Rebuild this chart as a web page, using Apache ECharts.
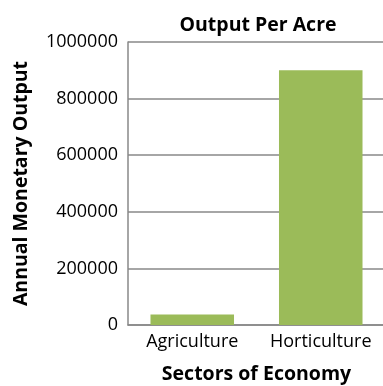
<!DOCTYPE html>
<html>
<head>
<meta charset="utf-8">
<script src="https://cdn.jsdelivr.net/npm/echarts@6/dist/echarts.min.js"></script>
<style>
  html, body { margin: 0; padding: 0; background: #fff; }
  #chart { width: 383px; height: 386px; }
</style>
</head>
<body>
<div id="chart"></div>
<script>
// 图表数据
const categories = ['Agriculture', 'Horticulture']
const outputValues = [37000, 900000]

const FONT = '"Open Sans", sans-serif'
const GRID_COLOR = '#888888'
const boldText = { fontFamily: FONT, fontSize: 19.5, fontWeight: 'bold', color: '#000' }

const chart = echarts.init(document.getElementById('chart'))

const option = {
  animation: false,
  title: {
    text: 'Output Per Acre',
    left: 253,
    top: 10,
    textAlign: 'center',
    textStyle: boldText
  },
  grid: {
    left: 128,
    right: -2,
    top: 42,
    bottom: 61,
    outerBoundsMode: 'none'
  },
  xAxis: {
    type: 'category',
    data: categories,
    name: 'Sectors of Economy',
    nameLocation: 'middle',
    nameGap: 39,
    nameTextStyle: boldText,
    axisLine: { lineStyle: { color: GRID_COLOR, width: 1.5 } },
    axisTick: { show: false },
    axisLabel: { fontFamily: FONT, fontSize: 18, color: '#000', margin: 8, interval: 0, hideOverlap: false }
  },
  yAxis: {
    type: 'value',
    min: 0,
    max: 1000000,
    interval: 200000,
    name: 'Annual Monetary Output',
    nameLocation: 'middle',
    nameGap: 97,
    nameTextStyle: boldText,
    axisLine: { show: true, lineStyle: { color: GRID_COLOR, width: 1.5 } },
    axisTick: { show: false },
    axisLabel: {
      fontFamily: FONT,
      fontSize: 18,
      color: '#000',
      margin: 10,
      formatter: (v) => String(v)
    },
    splitLine: { lineStyle: { color: GRID_COLOR, width: 1.5 } }
  },
  series: [
    {
      type: 'bar',
      data: outputValues,
      barCategoryGap: '35%',
      itemStyle: { color: '#9BBB59' }
    }
  ]
}

chart.setOption(option)
</script>
</body>
</html>
